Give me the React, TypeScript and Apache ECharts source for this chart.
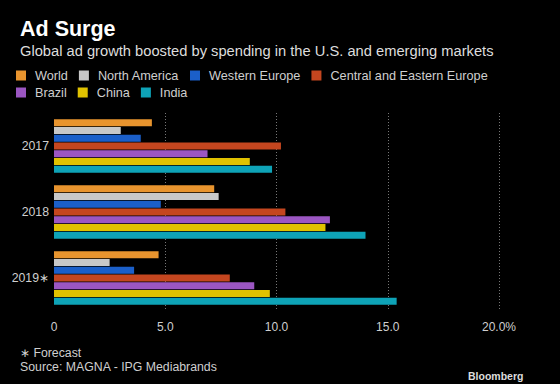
import React, { useEffect, useRef } from "react";
import * as echarts from "echarts";

const categories = ["2017", "2018", "2019∗"];
const seriesNames = ["World", "North America", "Western Europe", "Central and Eastern Europe", "Brazil", "China", "India"];
const world = [4.4, 7.2, 4.7];
const northAmerica = [3.0, 7.4, 2.5];
const westernEurope = [3.9, 4.8, 3.6];
const centralEasternEurope = [10.2, 10.4, 7.9];
const brazil = [6.9, 12.4, 9.0];
const china = [8.8, 12.2, 9.7];
const india = [9.8, 14.0, 15.4];
const seriesColors = ["#e8942e", "#c8c8c8", "#1b5fc9", "#c4461f", "#9b56c2", "#e0c200", "#0ea3b7"];
const xTicks = [0, 5, 10, 15, 20];

const FONT = "'Liberation Sans', Arial, sans-serif";

export default function App() {
  const ref = useRef<HTMLDivElement>(null);
  useEffect(() => {
    if (!ref.current) return;
    const chart = echarts.init(ref.current, null, { renderer: "svg" });
    const values = [world, northAmerica, westernEurope, centralEasternEurope, brazil, china, india];
    const legendText = { color: "#cfcfcf", fontSize: 12.7, fontFamily: FONT, padding: [0, 0, 0, 4] };
    chart.setOption({
      animation: false,
      backgroundColor: "#000000",
      textStyle: { fontFamily: FONT },
      title: [
        { text: "Ad Surge", left: 15, top: 12.5, textStyle: { color: "#ffffff", fontSize: 21.5, fontWeight: "bold", fontFamily: FONT } },
        { text: "Global ad growth boosted by spending in the U.S. and emerging markets", left: 15, top: 38, textStyle: { color: "#dddddd", fontSize: 14.7, fontWeight: "normal", fontFamily: FONT } },
        { text: "∗ Forecast", left: 15, top: 341.5, textStyle: { color: "#cfcfcf", fontSize: 12.3, fontWeight: "normal", fontFamily: FONT } },
        { text: "Source: MAGNA - IPG Mediabrands", left: 15, top: 356, textStyle: { color: "#cfcfcf", fontSize: 12.3, fontWeight: "normal", fontFamily: FONT } },
        { text: "Bloomberg", left: 463, top: 365, textStyle: { color: "#dddddd", fontSize: 10.5, fontWeight: "bold", fontFamily: FONT } },
      ],
      legend: [
        {
          data: seriesNames.slice(0, 4),
          left: 16, top: 69, itemWidth: 10, itemHeight: 10, itemGap: 11, icon: "rect",
          textStyle: legendText, padding: 0,
        },
        {
          data: seriesNames.slice(4),
          left: 16, top: 86, itemWidth: 10, itemHeight: 10, itemGap: 11, icon: "rect",
          textStyle: legendText, padding: 0,
        },
      ],
      grid: { left: 54, right: 61, top: 113, bottom: 73, containLabel: false },
      xAxis: {
        type: "value",
        min: xTicks[0],
        max: xTicks[xTicks.length - 1],
        interval: 5,
        axisLine: { show: false },
        axisTick: { show: false },
        axisLabel: {
          color: "#cfcfcf", fontSize: 12, margin: 10,
          formatter: (v: number) => (v === 0 ? "0" : v === 20 ? "20.0%" : v.toFixed(1)),
        },
        splitLine: { show: true, lineStyle: { type: [1, 2], width: 1, color: ["rgba(0,0,0,0)", "#777777", "#777777", "#777777", "#777777"] } },
      },
      yAxis: {
        type: "category",
        data: categories,
        inverse: true,
        axisLine: { show: false },
        axisTick: { show: false },
        axisLabel: { color: "#cfcfcf", fontSize: 12.3, margin: 5 },
      },
      series: seriesNames.map((name, i) => ({
        name,
        type: "bar",
        data: values[i],
        itemStyle: { color: seriesColors[i] },
        barCategoryGap: "19%",
        barGap: "12%",
      })),
    });
    return () => chart.dispose();
  }, []);
  return <div ref={ref} style={{ position: "fixed", left: 0, top: 0, width: 560, height: 384 }} />;
}
